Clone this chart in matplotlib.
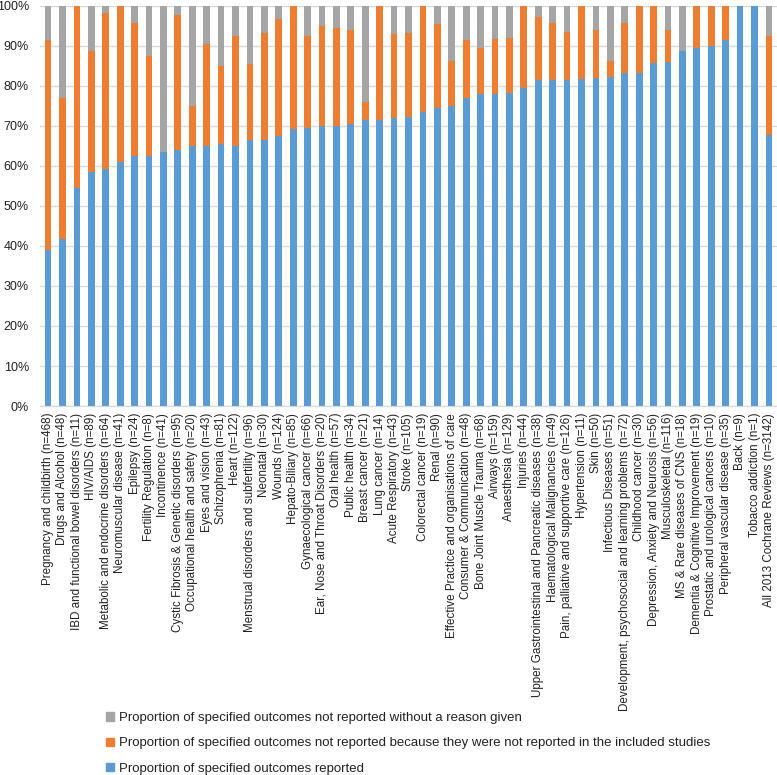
import matplotlib
matplotlib.use('Agg')
import matplotlib.pyplot as plt
from matplotlib.ticker import PercentFormatter, MultipleLocator
from matplotlib.patches import Patch

plt.rcParams['font.family'] = ['Liberation Sans', 'DejaVu Sans']

groups = [
    "Pregnancy and childbirth (n=468)", "Drugs and Alcohol (n=48)",
    "IBD and functional bowel disorders (n=11)", "HIV/AIDS (n=89)",
    "Metabolic and endocrine disorders (n=64)", "Neuromuscular disease (n=41)",
    "Epilepsy (n=24)", "Fertility Regulation (n=8)", "Incontinence (n=41)",
    "Cystic Fibrosis & Genetic disorders (n=95)", "Occupational health and safety (n=20)",
    "Eyes and vision (n=43)", "Schizophrenia (n=81)", "Heart (n=122)",
    "Menstrual disorders and subfertility (n=96)", "Neonatal (n=30)", "Wounds (n=124)",
    "Hepato-Biliary (n=85)", "Gynaecological cancer (n=66)",
    "Ear, Nose and Throat Disorders (n=20)", "Oral health (n=57)", "Public health (n=34)",
    "Breast cancer (n=21)", "Lung cancer (n=14)", "Acute Respiratory (n=43)",
    "Stroke (n=105)", "Colorectal cancer (n=19)", "Renal (n=90)",
    "Effective Practice and organisations of care", "Consumer & Communication (n=48)",
    "Bone Joint Muscle Trauma (n=68)", "Airways (n=159)", "Anaesthesia (n=129)",
    "Injuries (n=44)", "Upper Gastrointestinal and Pancreatic diseases (n=38)",
    "Haematological Malignancies (n=49)", "Pain, palliative and supportive care (n=126)",
    "Hypertension (n=11)", "Skin (n=50)", "Infectious Diseases (n=51)",
    "Development, psychosocial and learning problems (n=72)", "Childhood cancer (n=30)",
    "Depression, Anxiety and Neurosis (n=56)", "Musculoskeletal (n=116)",
    "MS & Rare diseases of CNS (n=18)", "Dementia & Cognitive Improvement (n=19)",
    "Prostatic and urological cancers (n=10)", "Peripheral vascular disease (n=35)",
    "Back (n=9)", "Tobacco addiction (n=1)", "All 2013 Cochrane Reviews (n=3142)",
]

# percentages
reported = [39.1, 41.7, 54.5, 58.5, 59.2, 60.9, 62.5, 62.5, 63.4, 64.1, 65.0, 65.1, 65.5,
            64.9, 66.6, 66.6, 67.6, 69.3, 69.6, 70.0, 70.1, 70.5, 71.5, 71.5, 72.0, 72.3,
            73.6, 74.4, 74.9, 77.0, 77.9, 77.9, 78.3, 79.5, 81.5, 81.5, 81.6, 81.8, 81.9,
            82.3, 83.2, 83.3, 85.7, 86.1, 88.8, 89.4, 89.9, 91.4, 100.0, 100.0, 67.8]
not_in_studies = [52.5, 35.4, 45.5, 30.2, 39.1, 39.1, 33.3, 24.9, 0.0, 33.7, 9.9, 25.5, 19.6,
                  27.6, 18.8, 26.7, 29.2, 30.7, 22.8, 25.0, 24.5, 23.5, 4.6, 28.5, 20.9, 20.9,
                  26.4, 21.1, 11.4, 14.6, 11.7, 13.9, 13.8, 20.5, 15.8, 14.3, 12.0, 18.2, 12.0,
                  4.0, 12.6, 16.7, 14.3, 7.8, 0.0, 10.6, 10.1, 8.6, 0.0, 0.0, 24.7]
no_reason = [8.4, 22.9, 0.0, 11.3, 1.7, 0.0, 4.2, 12.6, 36.6, 2.2, 25.1, 9.4, 14.9,
             7.5, 14.6, 6.7, 3.2, 0.0, 7.6, 5.0, 5.4, 6.0, 23.9, 0.0, 7.1, 6.8,
             0.0, 4.5, 13.7, 8.4, 10.4, 8.2, 7.9, 0.0, 2.7, 4.2, 6.4, 0.0, 6.1,
             13.7, 4.2, 0.0, 0.0, 6.1, 11.2, 0.0, 0.0, 0.0, 0.0, 0.0, 7.5]

series_labels = [
    "Proportion of specified outcomes reported",
    "Proportion of specified outcomes not reported because they were not reported in the included studies",
    "Proportion of specified outcomes not reported without a reason given",
]
colors = ['#5B9BD5', '#ED7D31', '#A5A5A5']

fig = plt.figure(figsize=(7.77, 7.75), dpi=100)
ax = fig.add_axes([40 / 777, 1 - 406 / 775, 737 / 777, 400 / 775])

x = list(range(len(groups)))
b1 = [v / 100 for v in reported]
b2 = [v / 100 for v in not_in_studies]
b3 = [v / 100 for v in no_reason]
bottom3 = [a + b for a, b in zip(b1, b2)]
w = 0.47
ax.bar(x, b1, width=w, color=colors[0], zorder=2)
ax.bar(x, b2, width=w, bottom=b1, color=colors[1], zorder=2)
ax.bar(x, b3, width=w, bottom=bottom3, color=colors[2], zorder=2)

ax.set_xlim(-0.56, len(groups) - 0.44)
ax.set_ylim(0, 1)
ax.yaxis.set_major_locator(MultipleLocator(0.1))
ax.yaxis.set_major_formatter(PercentFormatter(1.0, decimals=0))
ax.grid(axis='y', color='#D9D9D9', linewidth=1, zorder=0)
for s in ['top', 'right', 'left']:
    ax.spines[s].set_visible(False)
ax.spines['bottom'].set_color('#D9D9D9')
ax.tick_params(axis='both', length=0, colors='#222222')
ax.tick_params(axis='y', pad=8, labelsize=9)
ax.tick_params(axis='x', pad=5)
ax.set_xticks(x)
ax.set_xticklabels(groups, rotation=90, fontsize=8.4)

handles = [Patch(color=colors[2]), Patch(color=colors[1]), Patch(color=colors[0])]
fig.legend(handles, [series_labels[2], series_labels[1], series_labels[0]],
           loc='upper left', bbox_to_anchor=(106 / 777, 1 - 712 / 775), frameon=False,
           fontsize=9.5, handlelength=0.6, handleheight=0.6, handletextpad=0.38,
           labelspacing=1.02, borderaxespad=0, borderpad=0, labelcolor='#222222')

plt.savefig('out.png', dpi=100)
